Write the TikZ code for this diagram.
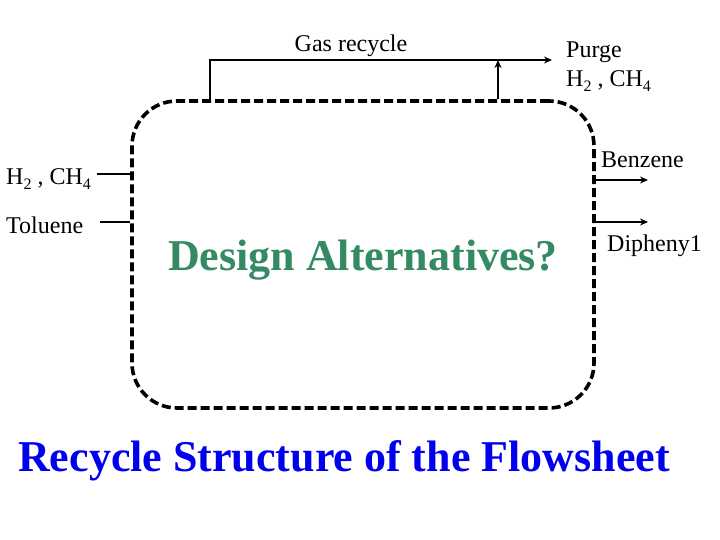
\documentclass[tikz,border=0pt]{standalone}
\usepackage{fontspec}
\setmainfont{Liberation Serif}
\usetikzlibrary{arrows.meta,positioning}
\definecolor{altgreen}{RGB}{52,138,98}
\definecolor{titleblue}{RGB}{0,0,238}
\newcommand{\lowsub}[1]{\raisebox{-5pt}{\fontsize{16}{16}\selectfont #1}}
\tikzset{
  pipe/.style={line width=1.6pt},
  flow/.style={pipe,-{Stealth[length=8pt,width=7pt]}},
  procbox/.style={draw,line width=3.6pt,dash pattern=on 9pt off 4pt,
    rounded corners=45pt,minimum width=462pt,minimum height=307pt},
  lbl/.style={font=\fontsize{24}{26}\selectfont,inner sep=0pt}
}
\begin{document}
\begin{tikzpicture}[x=1pt,y=-1pt]
  \useasboundingbox (0,0) rectangle (720,540);

  % Processo
  \node[procbox] (proc) at (363,254.5) {};
  \node[text=altgreen,font=\fontsize{44}{48}\selectfont\bfseries] (alt) at (363,260) {Design Alternatives?};

  % Gas recycle e purge
  \coordinate (grc) at (210,60);
  \coordinate (pj) at (498,60);
  \coordinate (pout) at (552,60);
  \draw[pipe] (pj) -- (grc) -- (grc |- proc.north);
  \draw[flow] (pj |- proc.north) -- (pj);
  \draw[flow] (pj) -- (pout);
  \node[lbl] (lgas) at (351,46) {Gas recycle};
  \node[lbl,anchor=west] (lpurge) at (566,52) {Purge};
  \node[lbl,anchor=west] (lpurgeg) at (566,81) {H\lowsub{2} , CH\lowsub{4}};

  % Alimentazioni
  \node[lbl,anchor=west] (lh2) at (6,179) {H\lowsub{2} , CH\lowsub{4}};
  \node[lbl,anchor=west] (ltol) at (6,225) {Toluene};
  \coordinate (h2in) at (97,174);
  \coordinate (tolin) at (100,222);
  \draw[pipe] (h2in) -- (h2in -| proc.west);
  \draw[pipe] (tolin) -- (tolin -| proc.west);

  % Prodotti
  \coordinate (benzout) at (648,180);
  \coordinate (diphout) at (648,222);
  \draw[flow] (benzout -| proc.east) -- (benzout);
  \draw[flow] (diphout -| proc.east) -- (diphout);
  \node[lbl,anchor=west] (lbenz) at (601,160) {Benzene};
  \node[lbl,anchor=west] (ldiph) at (607,246) {Dipheny1};

  % Titolo
  \node[text=titleblue,font=\fontsize{44}{48}\selectfont\bfseries] (title) at (344,461) {Recycle Structure of the Flowsheet};
\end{tikzpicture}
\end{document}
